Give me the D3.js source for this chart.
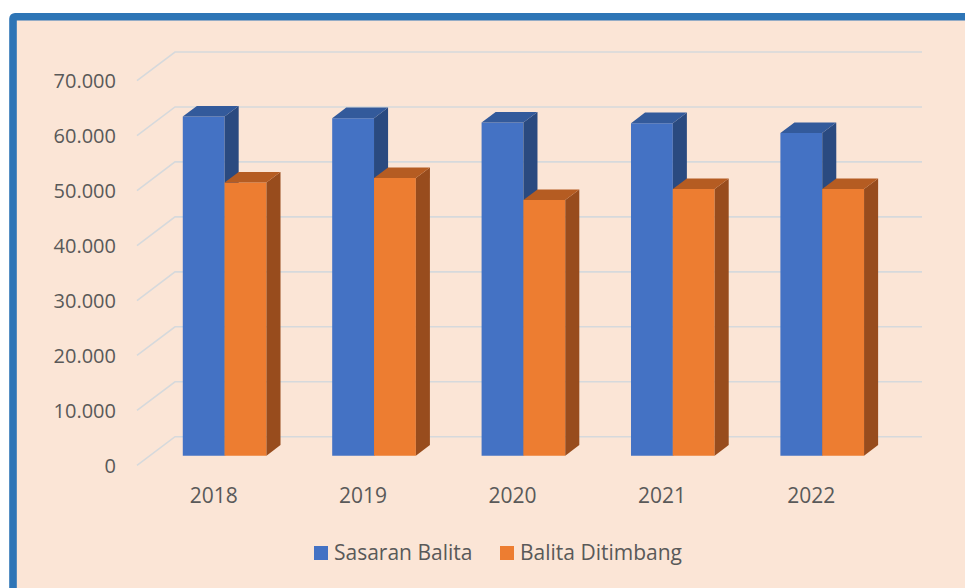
<!DOCTYPE html>
<html>
<head>
<meta charset="utf-8">
<script src="https://cdn.jsdelivr.net/npm/d3@7"></script>
<style>
  html, body { margin: 0; padding: 0; background: #ffffff; }
  svg { display: block; }
</style>
</head>
<body>
<svg id="chart" width="965" height="588"></svg>
<script>
const years = ["2018", "2019", "2020", "2021", "2022"];
const seriesNames = ["Sasaran Balita", "Balita Ditimbang"];
const sasaranBalita = [61700, 61400, 60600, 60500, 58700];
const balitaDitimbang = [49700, 50500, 46500, 48500, 48500];
const yTicks = [0, 10000, 20000, 30000, 40000, 50000, 60000, 70000];

const svg = d3.select("#chart");

// face colours per series: front, side, top
const faces = [
    { front: "#4472C4", side: "#2A4A80", top: "#335A9B" },
    { front: "#ED7D31", side: "#984C1D", top: "#B55C22" }
];

// panel with the thick blue border
svg.append("rect")
    .attr("x", 13).attr("y", 16.7)
    .attr("width", 1000).attr("height", 640)
    .attr("rx", 2)
    .attr("fill", "#FBE5D6")
    .attr("stroke", "#2E75B6")
    .attr("stroke-width", 7.6);

// pseudo 3D geometry: front plane + depth vector
const front0 = 465.4;           // y of value 0 on the front plane
const depth = { dx: 38, dy: -28.7 };
const x0 = d3.scaleBand().domain(years).range([137, 884])
    .paddingInner(0.44).paddingOuter(0.22);
const x1 = d3.scaleBand().domain(seriesNames).range([0, x0.bandwidth()]);
const h = d3.scaleLinear().domain([0, 70000]).range([0, 384.7]);

const proj = (x, v, t) => [x + depth.dx * t, front0 + depth.dy * t - h(v)];
const poly = pts => "M" + pts.map(p => p.join(",")).join("L") + "Z";

// gridlines: short diagonal on the side wall + back wall line
const grid = svg.append("g").attr("stroke", "#D6D9DC").attr("stroke-width", 1.6).attr("fill", "none");
yTicks.forEach(v => {
    const a = proj(137, v, 0), b = proj(137, v, 1), c = proj(884, v, 1);
    grid.append("path").attr("d", `M${a}L${b}L${c}`);
});

// y labels
svg.append("g").selectAll("text")
    .data(yTicks)
    .enter()
    .append("text")
    .attr("x", 116)
    .attr("y", d => proj(137, d, 0)[1] + 2)
    .attr("text-anchor", "end")
    .attr("dominant-baseline", "middle")
    .attr("font-family", "'Open Sans', sans-serif")
    .attr("font-size", "20px")
    .attr("fill", "#595959")
    .text(d => d3.format(",")(d).replace(/,/g, "."));

// bars
const t0 = 0.34, t1 = 0.71;
const values = [sasaranBalita, balitaDitimbang];
const bars = svg.append("g");
years.forEach((yr, i) => {
    seriesNames.forEach((s, k) => {
        const v = values[k][i];
        const xl = x0(yr) + x1(s);
        const xr = xl + x1.bandwidth();
        const col = faces[k];
        bars.append("path")
            .attr("d", poly([proj(xl, 0, t0), proj(xr, 0, t0), proj(xr, v, t0), proj(xl, v, t0)]))
            .attr("fill", col.front);
        bars.append("path")
            .attr("d", poly([proj(xr, 0, t0), proj(xr, 0, t1), proj(xr, v, t1), proj(xr, v, t0)]))
            .attr("fill", col.side);
        bars.append("path")
            .attr("d", poly([proj(xl, v, t0), proj(xr, v, t0), proj(xr, v, t1), proj(xl, v, t1)]))
            .attr("fill", col.top);
    });
});

// category labels
svg.append("g").selectAll("text")
    .data(years)
    .enter()
    .append("text")
    .attr("x", d => x0(d) + x0.bandwidth() / 2 + 2)
    .attr("y", 497)
    .attr("text-anchor", "middle")
    .attr("dominant-baseline", "middle")
    .attr("font-family", "'Open Sans', sans-serif")
    .attr("font-size", "21px")
    .attr("fill", "#595959")
    .text(d => d);

// legend
const legendX = [314, 500];
const legend = svg.append("g");
seriesNames.forEach((s, k) => {
    legend.append("rect")
        .attr("x", legendX[k]).attr("y", 546)
        .attr("width", 14).attr("height", 14)
        .attr("fill", faces[k].front);
    legend.append("text")
        .attr("x", legendX[k] + 20).attr("y", 554)
        .attr("dominant-baseline", "middle")
        .attr("font-family", "'Open Sans', sans-serif")
        .attr("font-size", "21px")
        .attr("fill", "#595959")
        .text(s);
});
</script>
</body>
</html>
